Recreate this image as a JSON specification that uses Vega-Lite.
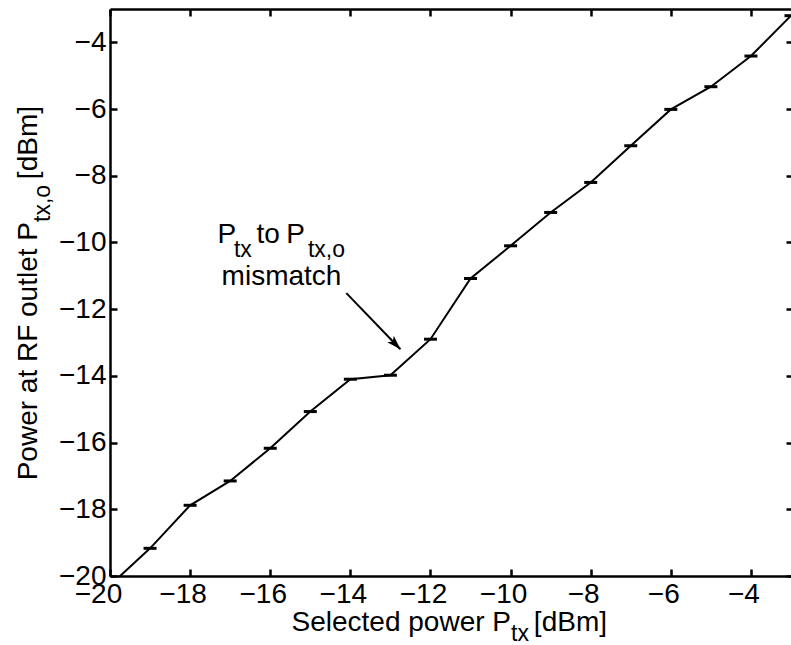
{
  "$schema": "https://vega.github.io/schema/vega-lite/v6.json",
  "width": 681,
  "height": 567,
  "autosize": {"type": "none"},
  "padding": {"left": 110, "top": 9, "right": 0, "bottom": 69},
  "background": "white",
  "config": {
    "view": {"stroke": null},
    "axis": {
      "grid": false,
      "title": null,
      "domainColor": "black",
      "domainWidth": 2.5,
      "tickColor": "black",
      "tickWidth": 2.5,
      "tickSize": -7,
      "labelFont": "Liberation Sans",
      "labelFontSize": 28,
      "labelColor": "black",
      "labelFlush": false,
      "labelOverlap": false
    }
  },
  "datasets": {
    "measured": [
      {"selected": -20, "outlet": -20.28},
      {"selected": -19, "outlet": -19.17},
      {"selected": -18, "outlet": -17.88},
      {"selected": -17, "outlet": -17.15},
      {"selected": -16, "outlet": -16.17},
      {"selected": -15, "outlet": -15.07},
      {"selected": -14, "outlet": -14.1},
      {"selected": -13, "outlet": -13.98},
      {"selected": -12, "outlet": -12.9},
      {"selected": -11, "outlet": -11.08},
      {"selected": -10, "outlet": -10.1},
      {"selected": -9, "outlet": -9.1},
      {"selected": -8, "outlet": -8.2},
      {"selected": -7, "outlet": -7.1},
      {"selected": -6, "outlet": -6.01},
      {"selected": -5, "outlet": -5.33},
      {"selected": -4, "outlet": -4.41},
      {"selected": -3, "outlet": -3.2}
    ],
    "arrow": [
      {"x": -14.1, "y": -11.52, "order": 0},
      {"x": -12.75, "y": -13.2, "order": 1}
    ],
    "notes": [
      {"part": "ann", "text": "P", "x": -17.316, "y": -10.025},
      {"part": "sub", "text": "tx", "x": -16.905, "y": -10.427},
      {"part": "ann", "text": "to", "x": -16.343, "y": -10.025},
      {"part": "ann", "text": "P", "x": -15.6, "y": -10.025},
      {"part": "sub", "text": "tx,o", "x": -15.06, "y": -10.427},
      {"part": "center", "text": "mismatch", "x": -15.719, "y": -11.275},
      {"part": "xtitle", "text": "Selected power P", "x": -9.99, "y": -21.649},
      {"part": "sub", "text": "tx", "x": -9.99, "y": -21.949},
      {"part": "xtitle", "text": "[dBm]", "x": -7.593, "y": -21.649},
      {"part": "ytitle", "text": "Power at RF outlet P", "x": -21.822, "y": -9.386},
      {"part": "ysub", "text": "tx,o", "x": -21.51, "y": -9.386},
      {"part": "ytitle", "text": "[dBm]", "x": -21.822, "y": -5.908}
    ]
  },
  "resolve": {"axis": {"x": "independent", "y": "independent"}},
  "layer": [
    {
      "data": {"name": "measured"},
      "mark": {"type": "line", "color": "black", "strokeWidth": 2, "clip": true},
      "encoding": {
        "x": {"field": "selected", "type": "quantitative",
              "scale": {"domain": [-20, -3], "nice": false, "zero": false},
              "axis": {"orient": "bottom", "values": [-20, -18, -16, -14, -12, -10, -8, -6, -4],
                       "ticks": false, "labelPadding": 4,
                       "labelOffset": {"condition": {"test": "datum.value == -20", "value": -12}, "value": -7.5}}},
        "y": {"field": "outlet", "type": "quantitative",
              "scale": {"domain": [-20, -3], "nice": false, "zero": false},
              "axis": {"orient": "left", "values": [-20, -18, -16, -14, -12, -10, -8, -6, -4],
                       "ticks": false, "labelPadding": 4}}
      }
    },
    {
      "data": {"name": "measured"},
      "mark": {"type": "point", "shape": "M-1,0L1,0", "size": 169, "filled": false,
               "stroke": "black", "strokeWidth": 3, "opacity": 1, "clip": true},
      "encoding": {
        "x": {"field": "selected", "type": "quantitative",
              "scale": {"domain": [-20, -3], "nice": false, "zero": false},
              "axis": {"orient": "top", "values": [-20, -18, -16, -14, -12, -10, -8, -6, -4], "labels": false}},
        "y": {"field": "outlet", "type": "quantitative",
              "scale": {"domain": [-20, -3], "nice": false, "zero": false},
              "axis": {"orient": "right", "values": [-20, -18, -16, -14, -12, -10, -8, -6, -4],
                       "labels": false, "domain": false, "tickSize": -5}}
      }
    },
    {
      "data": {"name": "arrow"},
      "mark": {"type": "line", "color": "black", "strokeWidth": 2},
      "encoding": {
        "x": {"field": "x", "type": "quantitative", "scale": {"domain": [-20, -3], "nice": false, "zero": false},
              "axis": {"orient": "bottom", "values": [-20, -18, -16, -14, -12, -10, -8, -6, -4], "labels": false, "domain": false}},
        "y": {"field": "y", "type": "quantitative", "scale": {"domain": [-20, -3], "nice": false, "zero": false},
              "axis": {"orient": "left", "values": [-20, -18, -16, -14, -12, -10, -8, -6, -4], "labels": false, "domain": false}},
        "order": {"field": "order"}
      }
    },
    {
      "data": {"name": "arrow"},
      "transform": [{"filter": "datum.order == 1"}],
      "mark": {"type": "point", "shape": "M0,0L0.55,1.7L0,1.3L-0.55,1.7Z", "size": 280,
               "filled": true, "color": "black", "opacity": 1, "angle": 135.7},
      "encoding": {
        "x": {"field": "x", "type": "quantitative", "scale": {"domain": [-20, -3], "nice": false, "zero": false}, "axis": null},
        "y": {"field": "y", "type": "quantitative", "scale": {"domain": [-20, -3], "nice": false, "zero": false}, "axis": null}
      }
    },
    {
      "data": {"name": "notes"},
      "transform": [{"filter": "datum.part == 'ann'"}],
      "mark": {"type": "text", "font": "Liberation Sans", "fontSize": 28, "color": "black",
               "align": "left", "baseline": "alphabetic", "clip": false},
      "encoding": {
        "x": {"field": "x", "type": "quantitative", "scale": {"domain": [-20, -3], "nice": false, "zero": false}, "axis": null},
        "y": {"field": "y", "type": "quantitative", "scale": {"domain": [-20, -3], "nice": false, "zero": false}, "axis": null},
        "text": {"field": "text"}
      }
    },
    {
      "data": {"name": "notes"},
      "transform": [{"filter": "datum.part == 'sub'"}],
      "mark": {"type": "text", "font": "Liberation Sans", "fontSize": 23, "color": "black",
               "align": "left", "baseline": "alphabetic", "clip": false},
      "encoding": {
        "x": {"field": "x", "type": "quantitative", "scale": {"domain": [-20, -3], "nice": false, "zero": false}, "axis": null},
        "y": {"field": "y", "type": "quantitative", "scale": {"domain": [-20, -3], "nice": false, "zero": false}, "axis": null},
        "text": {"field": "text"}
      }
    },
    {
      "data": {"name": "notes"},
      "transform": [{"filter": "datum.part == 'center'"}],
      "mark": {"type": "text", "font": "Liberation Sans", "fontSize": 28, "color": "black",
               "align": "center", "baseline": "alphabetic", "clip": false},
      "encoding": {
        "x": {"field": "x", "type": "quantitative", "scale": {"domain": [-20, -3], "nice": false, "zero": false}, "axis": null},
        "y": {"field": "y", "type": "quantitative", "scale": {"domain": [-20, -3], "nice": false, "zero": false}, "axis": null},
        "text": {"field": "text"}
      }
    },
    {
      "data": {"name": "notes"},
      "transform": [{"filter": "datum.part == 'xtitle'"}],
      "mark": {"type": "text", "font": "Liberation Sans", "fontSize": 28, "color": "black",
               "align": "right", "baseline": "alphabetic", "clip": false},
      "encoding": {
        "x": {"field": "x", "type": "quantitative", "scale": {"domain": [-20, -3], "nice": false, "zero": false}, "axis": null},
        "y": {"field": "y", "type": "quantitative", "scale": {"domain": [-20, -3], "nice": false, "zero": false}, "axis": null},
        "text": {"field": "text"}
      }
    },
    {
      "data": {"name": "notes"},
      "transform": [{"filter": "datum.part == 'ytitle'"}],
      "mark": {"type": "text", "font": "Liberation Sans", "fontSize": 28, "color": "black",
               "align": "right", "baseline": "alphabetic", "angle": 270, "clip": false},
      "encoding": {
        "x": {"field": "x", "type": "quantitative", "scale": {"domain": [-20, -3], "nice": false, "zero": false}, "axis": null},
        "y": {"field": "y", "type": "quantitative", "scale": {"domain": [-20, -3], "nice": false, "zero": false}, "axis": null},
        "text": {"field": "text"}
      }
    },
    {
      "data": {"name": "notes"},
      "transform": [{"filter": "datum.part == 'ysub'"}],
      "mark": {"type": "text", "font": "Liberation Sans", "fontSize": 23, "color": "black",
               "align": "left", "baseline": "alphabetic", "angle": 270, "clip": false},
      "encoding": {
        "x": {"field": "x", "type": "quantitative", "scale": {"domain": [-20, -3], "nice": false, "zero": false}, "axis": null},
        "y": {"field": "y", "type": "quantitative", "scale": {"domain": [-20, -3], "nice": false, "zero": false}, "axis": null},
        "text": {"field": "text"}
      }
    }
  ]
}
